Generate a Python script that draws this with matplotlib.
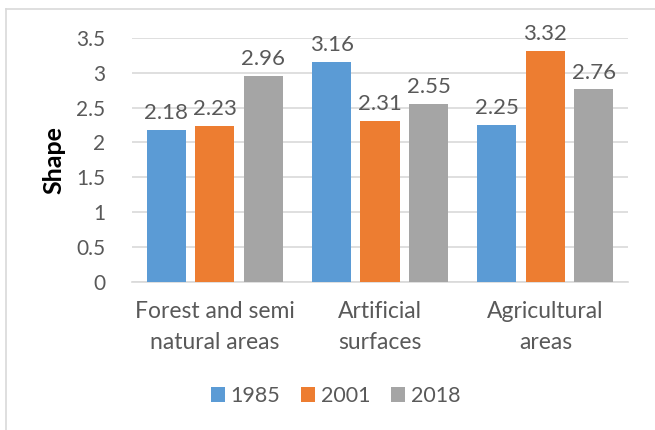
import numpy as np
import matplotlib.pyplot as plt

categories = ['Forest and semi\nnatural areas', 'Artificial\nsurfaces', 'Agricultural\nareas']
years = ['1985', '2001', '2018']
shape_1985 = [2.18, 3.16, 2.25]
shape_2001 = [2.23, 2.31, 3.32]
shape_2018 = [2.96, 2.55, 2.76]
colors = ['#5B9BD5', '#ED7D31', '#A5A5A5']

plt.rcParams['font.family'] = ['Lato', 'DejaVu Sans']
text_color = '#595959'

fig = plt.figure(figsize=(6.55, 4.3), dpi=100)
ax = fig.add_axes([132 / 655, 1 - 281.5 / 430, 496 / 655, 243.5 / 430])

x = np.arange(len(categories))
width = 0.236
offset = 0.293
for i, (vals, year) in enumerate(zip([shape_1985, shape_2001, shape_2018], years)):
    bars = ax.bar(x + (i - 1) * offset, vals, width, color=colors[i], label=year, zorder=3)
    ax.bar_label(bars, labels=[f'{v:.2f}' for v in vals], padding=5,
                 fontsize=16, color=text_color)

ax.set_xlim(-0.5, 2.5)
ax.set_ylim(0, 3.5)
ax.set_yticks(np.arange(0, 3.51, 0.5))
ax.set_yticklabels(['0', '0.5', '1', '1.5', '2', '2.5', '3', '3.5'])
ax.set_xticks(x)
ax.set_xticklabels(categories, linespacing=1.62, fontsize=16.5)
ax.tick_params(axis='both', length=0, labelcolor=text_color)
ax.tick_params(axis='y', pad=19, labelsize=15)
ax.tick_params(axis='x', pad=14)
ax.grid(axis='y', color='#D9D9D9', linewidth=1.2, zorder=0)
for s in ['top', 'right', 'left']:
    ax.spines[s].set_visible(False)
ax.spines['bottom'].set_color('#D9D9D9')
ax.spines['bottom'].set_linewidth(1.2)
ax.set_ylabel('Shape', fontsize=18, fontweight='bold', color='black')
ax.yaxis.set_label_coords(-0.135, 0.5)

# chart border (left and top edges visible)
fig.add_artist(plt.Line2D([6 / 655, 6 / 655], [0, 1 - 9 / 430], color='#D9D9D9', lw=1.2))
fig.add_artist(plt.Line2D([6 / 655, 1], [1 - 9 / 430, 1 - 9 / 430], color='#D9D9D9', lw=1.2))

fig.legend(loc='center', bbox_to_anchor=(335.5 / 655, 1 - 396 / 430), ncol=3, frameon=False,
           fontsize=15.5, labelcolor=text_color, handlelength=0.65, handleheight=0.65,
           handletextpad=0.28, columnspacing=0.95)

fig.savefig('out.png', dpi=100)
